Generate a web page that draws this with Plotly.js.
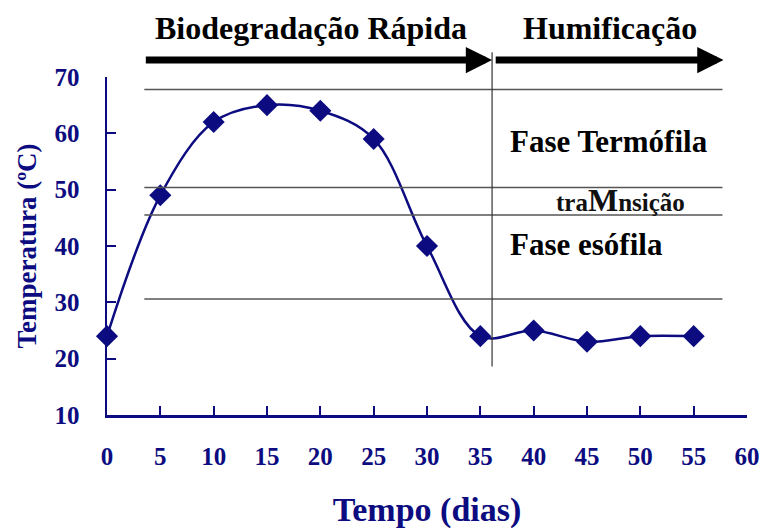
<!DOCTYPE html>
<html>
<head>
<meta charset="utf-8">
<script src="https://cdn.plot.ly/plotly-3.0.1.min.js"></script>
<style>html,body{margin:0;padding:0;background:#fff;}#chart{width:763px;height:531px;}</style>
</head>
<body>
<div id="chart"></div>
<script>
// ---- data ----
const days = [0, 5, 10, 15, 20, 25, 30, 35, 40, 45, 50, 55];
const temps = [24, 49, 62, 65, 64, 59, 40, 24, 25, 23, 24, 24];
const xTicks = [0, 5, 10, 15, 20, 25, 30, 35, 40, 45, 50, 55, 60];
const yTicks = [10, 20, 30, 40, 50, 60, 70];
const phaseLineTemps = [67.8, 50.4, 45.5, 30.6];
const phaseLineDays = [3.5, 57.7];
const boundaryDay = 36.1;
const boundaryTemps = [18.6, 74.4];
const stageNames = ["Biodegradação Rápida", "Humificação"];
const stageCenters = [19.1, 47.2];
const stageArrows = [[3.5, 36.1], [36.3, 57.8]];
const phaseLabels = ["Fase Termófila", "traMnsição", "Fase esófila"];
const phaseLabelTemps = [58.5, 48.2, 40.2];

const navy = "#0c0c80";
const serif = "'Liberation Serif', 'Times New Roman', serif";
const yRange = [10, 70];
const toPaperY = v => (v - yRange[0]) / (yRange[1] - yRange[0]);

const shapes = [];
phaseLineTemps.forEach(t => shapes.push({
  type: "line", xref: "x", yref: "y",
  x0: phaseLineDays[0], x1: phaseLineDays[1], y0: t, y1: t,
  line: {color: "#555", width: 1.5}
}));
shapes.push({
  type: "line", xref: "x", yref: "paper",
  x0: boundaryDay, x1: boundaryDay,
  y0: toPaperY(boundaryTemps[0]), y1: toPaperY(boundaryTemps[1]),
  line: {color: "#333", width: 1.2}
});

const annotations = [];
stageArrows.forEach(a => annotations.push({
  x: a[1], y: 1.05, xref: "x", yref: "paper",
  ax: a[0], ay: 0, axref: "x", ayref: "pixel",
  text: "", showarrow: true, arrowhead: 2, arrowsize: 0.75, arrowwidth: 7,
  arrowcolor: "#000", standoff: 0
}));
stageNames.forEach((n, i) => annotations.push({
  x: stageCenters[i], y: 1.145, xref: "x", yref: "paper",
  text: n, showarrow: false, xanchor: "center", yanchor: "middle",
  font: {family: serif, size: 32, color: "#000", weight: "bold"}
}));
annotations.push({
  x: 37.6, y: phaseLabelTemps[0], xref: "x", yref: "y",
  text: "<b>" + phaseLabels[0] + "</b>", showarrow: false, xanchor: "left", yanchor: "middle",
  font: {family: serif, size: 31, color: "#000"}
});
annotations.push({
  x: 48.1, y: phaseLabelTemps[1], xref: "x", yref: "y",
  text: "<b>tra<span style='font-size:32px'>M</span>nsição</b>", showarrow: false, xanchor: "center", yanchor: "middle",
  font: {family: serif, size: 25, color: "#111"}
});
annotations.push({
  x: 37.6, y: phaseLabelTemps[2], xref: "x", yref: "y",
  text: "<b>" + phaseLabels[2] + "</b>", showarrow: false, xanchor: "left", yanchor: "middle",
  font: {family: serif, size: 31, color: "#000"}
});

const trace = {
  x: days, y: temps, type: "scatter", mode: "lines+markers",
  line: {color: navy, width: 2.5, shape: "spline", smoothing: 1},
  marker: {symbol: "diamond", size: 17, color: navy},
  cliponaxis: false, hoverinfo: "skip"
};

const axisCommon = {
  showline: true, linecolor: navy, linewidth: 2.5,
  ticks: "inside", ticklen: 9, tickwidth: 2, tickcolor: navy,
  showgrid: false, zeroline: false, fixedrange: true,
  tickfont: {family: serif, size: 25, color: navy, weight: "bold"}
};

const layout = {
  width: 763, height: 531,
  margin: {l: 107, r: 16, t: 77, b: 116},
  paper_bgcolor: "#fff", plot_bgcolor: "#fff",
  showlegend: false,
  xaxis: Object.assign({}, axisCommon, {
    range: [0, 60], tickvals: xTicks, ticktext: xTicks.map(String),
    ticklabelstandoff: 17,
    title: {text: "<b>Tempo (dias)</b>", font: {family: serif, size: 34, color: navy}, standoff: 29}
  }),
  yaxis: Object.assign({}, axisCommon, {
    range: yRange, tickvals: yTicks, ticktext: yTicks.map(String),
    ticklabelstandoff: 20,
    title: {text: "<b>Temperatura (ºC)</b>", font: {family: serif, size: 27, color: navy}, standoff: 10}
  }),
  shapes: shapes,
  annotations: annotations
};

Plotly.newPlot("chart", [trace], layout, {displayModeBar: false, staticPlot: true});
</script>
</body>
</html>
